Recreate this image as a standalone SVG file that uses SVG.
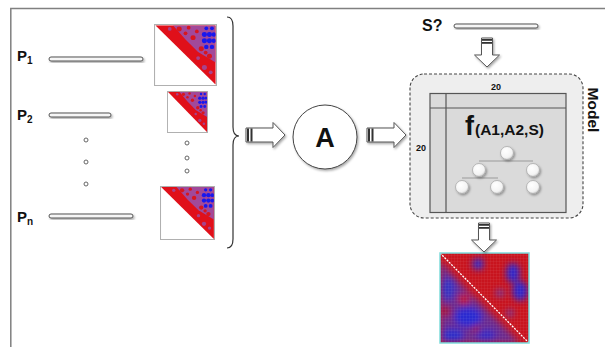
<svg xmlns="http://www.w3.org/2000/svg" width="605" height="347" viewBox="0 0 605 347">
<style>
.lbl{font-family:"Liberation Sans",Arial,sans-serif;font-weight:bold;fill:#111}
.bar{fill:#f6f6f6;stroke:#555;stroke-width:1}
.dot{fill:#fff;stroke:#666;stroke-width:1}
.arr{fill:#fff;stroke:#555;stroke-width:1}
.tb{fill:#333}
.node{fill:url(#ng);stroke:#aaa;stroke-width:0.8}
.tl{stroke:#999;stroke-width:1.2;fill:none}
</style>
<defs>
<filter id="sh" x="-20%" y="-20%" width="150%" height="150%">
<feDropShadow dx="1.2" dy="1.5" stdDeviation="1" flood-color="#000" flood-opacity="0.35"/>
</filter>
<filter id="bl" x="-20%" y="-20%" width="140%" height="140%">
<feGaussianBlur stdDeviation="3"/>
</filter>
<radialGradient id="ng" cx="0.4" cy="0.35" r="0.7">
<stop offset="0" stop-color="#fff"/>
<stop offset="0.7" stop-color="#f4f4f4"/>
<stop offset="1" stop-color="#cfcfcf"/>
</radialGradient>
<pattern id="grid" width="3" height="3" patternUnits="userSpaceOnUse">
<path d="M3,0 V3 H0" fill="none" stroke="#fff" stroke-width="0.5" stroke-opacity="0.18"/>
</pattern>
<clipPath id="tri"><polygon points="2,2 98,2 98,98"/></clipPath>
<clipPath id="hm"><rect x="0" y="0" width="89" height="90"/></clipPath>
<symbol id="mat" viewBox="0 0 100 100" preserveAspectRatio="none">
<rect x="0.5" y="0.5" width="99" height="99" fill="#fff" stroke="#b0b0b0" stroke-width="1.5" vector-effect="non-scaling-stroke"/>
<g clip-path="url(#tri)">
<rect x="0" y="0" width="100" height="100" fill="#e0101a"/>
<polygon points="30,2 98,2 98,62 70,45 50,25" fill="#9a50a8" opacity="0.9"/>
<g fill="#d8161e">
<circle cx="40" cy="8" r="4"/><circle cx="55" cy="6" r="3"/><circle cx="62" cy="22" r="4"/><circle cx="50" cy="15" r="3"/>
<circle cx="75" cy="40" r="4"/><circle cx="88" cy="52" r="4"/><circle cx="68" cy="12" r="3"/><circle cx="82" cy="46" r="3"/>
</g>
<g fill="#9a50a8" opacity="0.8">
<circle cx="80" cy="70" r="4"/><circle cx="90" cy="78" r="3"/><circle cx="25" cy="8" r="3"/><circle cx="70" cy="55" r="3"/>
</g>
<g fill="#1818ee">
<circle cx="83" cy="7" r="3"/><circle cx="92" cy="7" r="3"/>
<circle cx="80" cy="17" r="4"/><circle cx="88" cy="17" r="4"/><circle cx="95" cy="17" r="3.5"/>
<circle cx="80" cy="27" r="4"/><circle cx="88" cy="27" r="4"/><circle cx="95" cy="27" r="3.5"/>
<circle cx="83" cy="37" r="3.5"/><circle cx="92" cy="37" r="3.5"/>
</g>
</g>
</symbol>
<g id="rarrow">
<path class="arr" d="M0,-7 H27 V-12.5 L39,0 L27,12.5 V7 H0 Z"/>
<rect class="tb" x="1" y="-6.5" width="2" height="13"/>
<rect class="tb" x="4.5" y="-6.5" width="2" height="13"/>
</g>
<g id="darrow">
<path class="arr" d="M-5.5,0 H5.5 V17 H12.5 L0,29 L-12.5,17 H-5.5 Z"/>
<rect class="tb" x="-5" y="1" width="10" height="1.8"/>
<rect class="tb" x="-5" y="4" width="10" height="1.8"/>
</g>
</defs>

<rect x="0" y="0" width="605" height="347" fill="#fff"/>
<g id="frame" stroke="#808080" stroke-width="1.5" fill="none">
<path d="M605,8.5 H10.8 V347"/>
</g>

<g id="p1">
<text class="lbl" x="17" y="61" font-size="15">P<tspan font-size="10" dy="3">1</tspan></text>
<rect class="bar" x="49" y="57" width="94" height="4" rx="2" filter="url(#sh)"/>
<use href="#mat" x="154" y="24" width="63" height="62"/>
</g>
<g id="p2">
<text class="lbl" x="17" y="120" font-size="15">P<tspan font-size="10" dy="3">2</tspan></text>
<rect class="bar" x="49" y="113" width="62" height="4" rx="2" filter="url(#sh)"/>
<use href="#mat" x="167" y="91" width="41" height="42"/>
</g>
<g id="ellipsis">
<circle class="dot" cx="86" cy="140" r="2"/>
<circle class="dot" cx="86" cy="162" r="2"/>
<circle class="dot" cx="86" cy="184" r="2"/>
<circle class="dot" cx="187" cy="143" r="2"/>
<circle class="dot" cx="187" cy="158" r="2"/>
<circle class="dot" cx="187" cy="171" r="2"/>
</g>
<g id="pn">
<text class="lbl" x="17" y="222" font-size="15">P<tspan font-size="10" dy="3">n</tspan></text>
<rect class="bar" x="49" y="214" width="84" height="4" rx="2" filter="url(#sh)"/>
<use href="#mat" x="160" y="186" width="55" height="54"/>
</g>

<g id="brace">
<path d="M227,17 Q233,17 233,26 L233,127 Q233,136 239,136 Q233,136 233,145 L233,239 Q233,248 227,248" fill="none" stroke="#333" stroke-width="1.2"/>
</g>

<g id="A">
<circle cx="325" cy="137" r="32" fill="#fff" stroke="#444" stroke-width="1" filter="url(#sh)"/>
<text class="lbl" x="325" y="147" font-size="27" text-anchor="middle">A</text>
</g>

<g id="sq">
<text class="lbl" x="422" y="31" font-size="16">S?</text>
<rect class="bar" x="454" y="24" width="84" height="4" rx="2" filter="url(#sh)"/>
</g>

<g id="model">
<rect x="410" y="74" width="173" height="144" rx="14" fill="#eeeeee" stroke="#444" stroke-width="1.1" stroke-dasharray="3 2"/>
<rect x="430" y="93.5" width="136" height="119" fill="#dadada" stroke="#555" stroke-width="1.2"/>
<line x1="430" y1="108" x2="566" y2="108" stroke="#555" stroke-width="1.2"/>
<line x1="446" y1="93.5" x2="446" y2="212.5" stroke="#555" stroke-width="1.2"/>
<text class="lbl" x="496" y="90" font-size="9" text-anchor="middle">20</text>
<text class="lbl" x="421" y="151" font-size="9" text-anchor="middle">20</text>
<text class="lbl" x="465" y="135" font-size="27">f<tspan font-size="15.5" dx="1">(A1,A2,S)</tspan></text>
<path class="tl" d="M479,161 H533 M462,178 H498"/>
<g filter="url(#sh)">
<circle class="node" cx="507" cy="153" r="6.5"/>
<circle class="node" cx="479" cy="170" r="6.5"/>
<circle class="node" cx="533" cy="170" r="6.5"/>
<circle class="node" cx="462" cy="187" r="6.5"/>
<circle class="node" cx="497" cy="187" r="6.5"/>
<circle class="node" cx="533" cy="187" r="6.5"/>
</g>
<text class="lbl" transform="translate(588,110) rotate(90)" font-size="15.5" text-anchor="middle">Model</text>
</g>

<g id="heatmap" transform="translate(440,253)">
<g clip-path="url(#hm)">
<rect x="0" y="0" width="89" height="90" fill="#c8141e"/>
<g filter="url(#bl)">
<polygon points="0,8 0,90 80,90 40,50 20,30" fill="#6a2a90"/>
<ellipse cx="38" cy="11" rx="6" ry="6" fill="#3a2cc0"/>
<ellipse cx="73" cy="20" rx="7" ry="10" fill="#3028c8"/>
<ellipse cx="80" cy="38" rx="8" ry="10" fill="#3028c8"/>
<ellipse cx="60" cy="40" rx="5" ry="4" fill="#7a3090"/>
<ellipse cx="70" cy="60" rx="4" ry="4" fill="#7a3090"/>
<ellipse cx="8" cy="36" rx="8" ry="11" fill="#3a30c0"/>
<ellipse cx="28" cy="64" rx="14" ry="10" fill="#2a2ad0"/>
<ellipse cx="13" cy="82" rx="11" ry="7" fill="#2e2ec8"/>
<ellipse cx="46" cy="82" rx="10" ry="6" fill="#3a2cc0"/>
<ellipse cx="24" cy="46" rx="6" ry="5" fill="#c01828"/>
<ellipse cx="6" cy="58" rx="5" ry="6" fill="#a01838"/>
<ellipse cx="36" cy="76" rx="4" ry="3" fill="#a01838"/>
</g>
<rect x="0" y="0" width="89" height="90" fill="url(#grid)"/>
<line x1="0" y1="0" x2="89" y2="90" stroke="#fff" stroke-width="1.3" stroke-dasharray="2 1.2"/>
</g>
<rect x="0" y="0" width="89" height="90" fill="none" stroke="#7edcdc" stroke-width="1.5"/>
</g>

<g id="connectors">
<use href="#rarrow" transform="translate(246,135)" filter="url(#sh)"/>
<use href="#rarrow" transform="translate(367,135)" filter="url(#sh)"/>
<use href="#darrow" transform="translate(487,38)" filter="url(#sh)"/>
<use href="#darrow" transform="translate(484,223)" filter="url(#sh)"/>
</g>
</svg>
